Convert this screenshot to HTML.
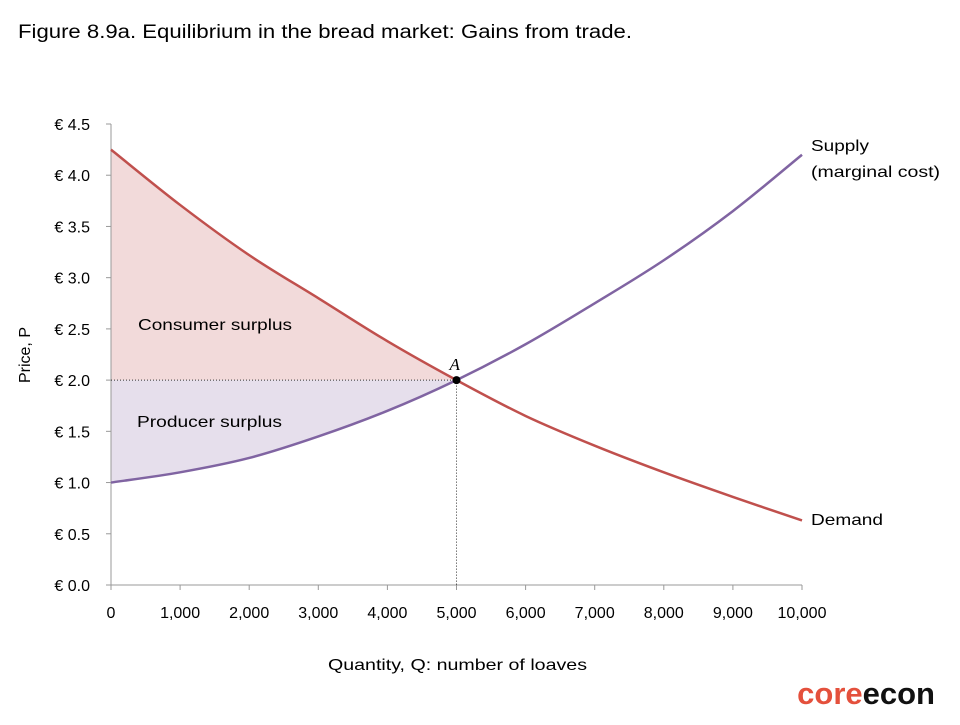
<!DOCTYPE html>
<html><head><meta charset="utf-8"><style>
body{margin:0;background:#fff;}
svg text{font-family:"Liberation Sans",sans-serif;}
svg text.serif{font-family:"Liberation Serif",serif;}
</style></head><body>
<svg id="chart" width="960" height="720" viewBox="0 0 960 720">
<text x="18" y="38" font-size="19" textLength="614" lengthAdjust="spacingAndGlyphs" fill="#000">Figure 8.9a. Equilibrium in the bread market: Gains from trade.</text>
<g id="plot"></g>
<text x="30" y="355" font-size="16" transform="rotate(-90 30 355)" text-anchor="middle">Price, P</text>
<text x="328" y="670" font-size="16" textLength="259" lengthAdjust="spacingAndGlyphs">Quantity, Q: number of loaves</text>
<text x="935" y="704" font-size="31" font-weight="bold" text-anchor="end"><tspan fill="#e4503c">core</tspan><tspan fill="#111">econ</tspan></text>
</svg>
<script>
const xTicks=[0,1000,2000,3000,4000,5000,6000,7000,8000,9000,10000];
const xTickLabels=["0","1,000","2,000","3,000","4,000","5,000","6,000","7,000","8,000","9,000","10,000"];
const yTicks=[0,0.5,1,1.5,2,2.5,3,3.5,4,4.5];
const yTickLabels=["€ 0.0","€ 0.5","€ 1.0","€ 1.5","€ 2.0","€ 2.5","€ 3.0","€ 3.5","€ 4.0","€ 4.5"];
const quantities=[0,1000,2000,3000,4000,5000,6000,7000,8000,9000,10000];
const supplyPrices=[1.0,1.1,1.24,1.45,1.7,2.0,2.35,2.75,3.17,3.65,4.2];
const demandPrices=[4.25,3.71,3.22,2.8,2.38,2.0,1.65,1.36,1.1,0.86,0.63];
const eqQ=5000, eqP=2.0;

const X=q=>111+q/10000*691;
const Y=p=>585-p/4.5*461;
const NS="http://www.w3.org/2000/svg";
const g=document.getElementById('plot');
function mk(t,a){const e=document.createElementNS(NS,t);for(const k in a)e.setAttribute(k,a[k]);g.appendChild(e);return e;}
function smooth(xs,ys){
  const pts=xs.map((q,i)=>[X(q),Y(ys[i])]);
  let d=`M${pts[0][0]},${pts[0][1]}`;
  for(let i=0;i<pts.length-1;i++){
    const p0=pts[Math.max(0,i-1)],p1=pts[i],p2=pts[i+1],p3=pts[Math.min(pts.length-1,i+2)];
    d+=` C${p1[0]+(p2[0]-p0[0])/6},${p1[1]+(p2[1]-p0[1])/6} ${p2[0]-(p3[0]-p1[0])/6},${p2[1]-(p3[1]-p1[1])/6} ${p2[0]},${p2[1]}`;
  }
  return d;
}
const idx=quantities.indexOf(eqQ);
const qL=quantities.slice(0,idx+1);
let e=mk('path',{d:smooth(qL,demandPrices.slice(0,idx+1))+` L${X(0)},${Y(eqP)} Z`,fill:'#f2dada'});


e=mk('path',{d:smooth(qL,supplyPrices.slice(0,idx+1))+` L${X(0)},${Y(eqP)} Z`,fill:'#e6dfec'});


e=mk('line',{x1:111,y1:124,x2:111,y2:585,stroke:'#999','stroke-width':1});


e=mk('line',{x1:111,y1:585,x2:802,y2:585,stroke:'#999','stroke-width':1});


yTicks.forEach((v,i)=>{
  mk('line',{x1:106,x2:111,y1:Y(v),y2:Y(v),stroke:'#999'});
  const t=mk('text',{x:90,y:Y(v)+6,'font-size':16,'text-anchor':'end'});t.textContent=yTickLabels[i];
  
  
});
xTicks.forEach((v,i)=>{
  mk('line',{x1:X(v),x2:X(v),y1:585,y2:590,stroke:'#999'});
  const t=mk('text',{x:X(v),y:618,'font-size':16,'text-anchor':'middle'});t.textContent=xTickLabels[i];
  
  
});
e=mk('path',{d:`M${X(0)},${Y(eqP)} H${X(eqQ)} V${Y(0)}`,fill:'none',stroke:'#333','stroke-width':1,'stroke-dasharray':'1,2'});


e=mk('path',{d:smooth(quantities,demandPrices),fill:'none',stroke:'#c0504d','stroke-width':2.5});


e=mk('path',{d:smooth(quantities,supplyPrices),fill:'none',stroke:'#8064a2','stroke-width':2.5});


e=mk('circle',{cx:X(eqQ),cy:Y(eqP),r:4,fill:'#000'});


function lbl(x,y,s,name,extra){const t=mk('text',Object.assign({x:x,y:y,'font-size':16},extra||{}));t.textContent=s;

return t;}
lbl(X(eqQ)-7,Y(eqP)-10,'A','point-a-label',{'font-style':'italic','class':'serif','font-size':17});
lbl(138,330,'Consumer surplus','consumer-surplus-label',{textLength:154,lengthAdjust:'spacingAndGlyphs'});
lbl(137,427,'Producer surplus','producer-surplus-label',{textLength:145,lengthAdjust:'spacingAndGlyphs'});
lbl(811,151,'Supply','supply-label',{textLength:58,lengthAdjust:'spacingAndGlyphs'});
lbl(811,177,'(marginal cost)','supply-label-sub',{textLength:129,lengthAdjust:'spacingAndGlyphs'});
lbl(811,525,'Demand','demand-label',{textLength:72,lengthAdjust:'spacingAndGlyphs'});
</script>
</body></html>
